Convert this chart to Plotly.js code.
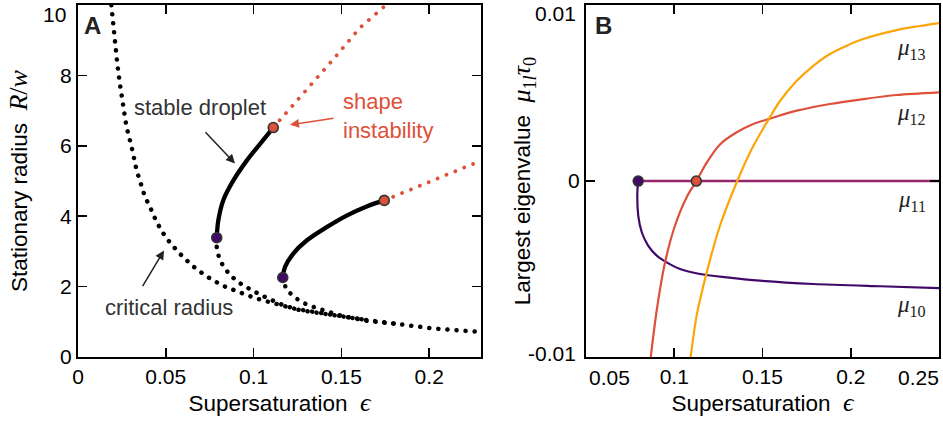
<!DOCTYPE html>
<html><head><meta charset="utf-8">
<script src="https://cdn.plot.ly/plotly-3.0.1.min.js"></script>
<style>html,body{margin:0;padding:0;background:#fff}#chart{width:943px;height:424px}
.js-line{stroke-linecap:round;}</style>
</head><body><div id="chart"></div>
<script>
// ---------- Panel A data (supersaturation eps, radius R/w) ----------
const critEps = [0.0190, 0.0211, 0.0224, 0.0239, 0.0258, 0.0277, 0.0306, 0.0334, 0.0382, 0.0406, 0.0448, 0.0501, 0.0571, 0.0647, 0.0723, 0.0818, 0.0913, 0.1018, 0.1122, 0.1226, 0.1345, 0.1454, 0.1644, 0.1834, 0.2023, 0.2295];
const critR   = [10.0, 8.84, 8.32, 7.75, 7.09, 6.52, 5.96, 5.30, 4.54, 4.31, 3.83, 3.39, 2.98, 2.61, 2.32, 2.04, 1.85, 1.66, 1.52, 1.38, 1.28, 1.19, 1.05, 0.93, 0.81, 0.71];

const unst1Eps = [0.0790, 0.0790, 0.0803, 0.0824, 0.0856, 0.0894, 0.0938, 0.0979, 0.1027, 0.1075, 0.1122, 0.1169, 0.1264, 0.1452, 0.1644];
const unst1R   = [3.39, 3.10, 2.83, 2.61, 2.39, 2.20, 2.04, 1.92, 1.80, 1.68, 1.57, 1.47, 1.33, 1.19, 1.05];

const unst2Eps = [0.1166, 0.1185, 0.1223, 0.1264, 0.1312, 0.1363, 0.1416, 0.1473, 0.1530, 0.1587, 0.1644, 0.1834];
const unst2R   = [2.26, 1.93, 1.74, 1.59, 1.47, 1.38, 1.28, 1.21, 1.14, 1.08, 1.03, 0.93];

const stab1Eps = [0.0790, 0.0799, 0.0827, 0.0884, 0.0961, 0.1036, 0.1112];
const stab1R   = [3.39, 3.88, 4.45, 5.01, 5.58, 6.05, 6.52];

const stab2Eps = [0.1166, 0.1179, 0.1226, 0.1302, 0.1416, 0.1530, 0.1644, 0.1744];
const stab2R   = [2.26, 2.56, 2.94, 3.31, 3.69, 4.02, 4.28, 4.45];

const shape1Eps = [0.1112, 0.1264, 0.1454, 0.1606, 0.1758];
const shape1R   = [6.52, 7.37, 8.46, 9.36, 10.02];

const shape2Eps = [0.1744, 0.1929, 0.2118, 0.2295];
const shape2R   = [4.45, 4.82, 5.20, 5.58];

const foldEps = [0.0790, 0.1166];
const foldR   = [3.39, 2.26];
const instEps = [0.1112, 0.1744];
const instR   = [6.52, 4.45];

// ---------- Panel B data (eps, largest eigenvalue mu_1l tau_0) ----------
const mu10Eps = [0.0796, 0.0791, 0.0796, 0.0816, 0.0853, 0.0901, 0.0957, 0.1033, 0.1146, 0.1297, 0.1486, 0.1788, 0.2166, 0.2500];
const mu10    = [0, -0.00064, -0.00197, -0.00291, -0.00368, -0.00424, -0.00462, -0.00500, -0.00528, -0.00547, -0.00566, -0.00585, -0.00598, -0.00608];

const mu11Eps = [0.0796, 0.2500];
const mu11    = [0, 0];

const mu12Eps = [0.0867, 0.0900, 0.0948, 0.1004, 0.1071, 0.1125, 0.1184, 0.1259, 0.1354, 0.1448, 0.1543, 0.1694, 0.1882, 0.2071, 0.2260, 0.2500];
const mu12    = [-0.0100, -0.00740, -0.00462, -0.00254, -0.00090, 0, 0.00105, 0.00208, 0.00277, 0.00324, 0.00355, 0.00400, 0.00438, 0.00466, 0.00489, 0.00504];

const mu13Eps = [0.1093, 0.1127, 0.1184, 0.1259, 0.1354, 0.1439, 0.1543, 0.1599, 0.1694, 0.1788, 0.1882, 0.1977, 0.2071, 0.2260, 0.2500];
const mu13    = [-0.0100, -0.00765, -0.00519, -0.00254, -0.00007, 0.00182, 0.00365, 0.00455, 0.00570, 0.00655, 0.00722, 0.00769, 0.00807, 0.00858, 0.00897];

const bDotEps = [0.0796, 0.1125];
const bDotMu  = [0, 0];

const xTicksA = [0, 0.05, 0.1, 0.15, 0.2];
const xTextA  = ['0', '0.05', '0.1', '0.15', '0.2'];
const yTicksA = [0, 2, 4, 6, 8, 10];
const yTextA  = ['0', '2', '4', '6', '8', '10'];
const xTicksB = [0.05, 0.1, 0.15, 0.2, 0.25];
const xTextB  = ['0.05', '0.1', '0.15', '0.2', '0.25'];
const yTicksB = [-0.01, 0, 0.01];
const yTextB  = ['-0.01', '0', '0.01'];

const PURPLE = '#420a68', MAG = '#932667', RED = '#dd513a', ORANGE = '#fca50a';
const SANS = 'Liberation Sans, Arial, Helvetica, sans-serif';
const SERIF = 'Liberation Serif, Times New Roman, serif';

const dotBlack = {color: '#000', width: 4.5, dash: '0.1px,9px'};
const dotRed = {color: RED, width: 3.8, dash: '0.1px,9.5px'};
const sm = {shape: 'spline', smoothing: 0.8};

const traces = [
  {x: critEps, y: critR, mode: 'lines', line: dotBlack, xaxis: 'x', yaxis: 'y'},
  {x: unst1Eps, y: unst1R, mode: 'lines', line: dotBlack, xaxis: 'x', yaxis: 'y'},
  {x: unst2Eps, y: unst2R, mode: 'lines', line: dotBlack, xaxis: 'x', yaxis: 'y'},
  {x: shape1Eps, y: shape1R, mode: 'lines', line: dotRed, xaxis: 'x', yaxis: 'y'},
  {x: shape2Eps, y: shape2R, mode: 'lines', line: dotRed, xaxis: 'x', yaxis: 'y'},
  {x: stab1Eps, y: stab1R, mode: 'lines', line: {color: '#000', width: 4.3, shape: 'spline'}, xaxis: 'x', yaxis: 'y'},
  {x: stab2Eps, y: stab2R, mode: 'lines', line: {color: '#000', width: 4.3, shape: 'spline'}, xaxis: 'x', yaxis: 'y'},
  {x: foldEps, y: foldR, mode: 'markers', marker: {color: PURPLE, size: 10, line: {color: '#333', width: 1.6}}, xaxis: 'x', yaxis: 'y', cliponaxis: false},
  {x: instEps, y: instR, mode: 'markers', marker: {color: RED, size: 10, line: {color: '#333', width: 1.6}}, xaxis: 'x', yaxis: 'y', cliponaxis: false},

  {x: mu11Eps, y: mu11, mode: 'lines', line: {color: MAG, width: 2.6}, xaxis: 'x2', yaxis: 'y2'},
  {x: mu10Eps, y: mu10, mode: 'lines', line: Object.assign({color: PURPLE, width: 2.2}, sm), xaxis: 'x2', yaxis: 'y2'},
  {x: mu12Eps, y: mu12, mode: 'lines', line: Object.assign({color: RED, width: 2.2}, sm), xaxis: 'x2', yaxis: 'y2'},
  {x: mu13Eps, y: mu13, mode: 'lines', line: Object.assign({color: ORANGE, width: 2.2}, sm), xaxis: 'x2', yaxis: 'y2'},
  {x: [bDotEps[0]], y: [bDotMu[0]], mode: 'markers', marker: {color: PURPLE, size: 10, line: {color: '#333', width: 1.6}}, xaxis: 'x2', yaxis: 'y2'},
  {x: [bDotEps[1]], y: [bDotMu[1]], mode: 'markers', marker: {color: RED, size: 10, line: {color: '#333', width: 1.6}}, xaxis: 'x2', yaxis: 'y2'}
];

const TICKSIZE = 21;
const axCommon = {
  ticks: 'inside', ticklen: 9, tickwidth: 1.5, tickcolor: '#000',
  showline: true, linewidth: 2, linecolor: '#000', mirror: 'ticks',
  showgrid: false, zeroline: false, fixedrange: true,
  tickfont: {family: SANS, size: TICKSIZE, color: '#000'}
};
const titleFont = {family: SANS, size: 22.5, color: '#000'};
const yDom = [0.158, 0.988];
const MATH = 'font-family:Liberation Serif;font-size:26px';
const tickFontA = {family: SANS, size: TICKSIZE, color: '#000'};

// the end ticks lie on the frame; their labels are drawn as annotations, nudged inward like the reference
const layout = {
  width: 943, height: 424,
  margin: {l: 0, r: 0, t: 0, b: 0},
  paper_bgcolor: '#fff', plot_bgcolor: '#fff',
  showlegend: false,
  xaxis: Object.assign({}, axCommon, {
    domain: [0.0827, 0.5101], range: [0, 0.2295], anchor: 'y',
    tickmode: 'array', tickvals: xTicksA, ticktext: xTextA,
    title: {text: 'Supersaturation  <span style="' + MATH + '"><i>ϵ</i></span>', font: titleFont, standoff: 8}
  }),
  yaxis: Object.assign({}, axCommon, {
    domain: yDom, range: [0, 10], anchor: 'x',
    tickmode: 'array', tickvals: yTicksA.slice(0, 5), ticktext: yTextA.slice(0, 5),
    title: {text: 'Stationary radius  <span style="' + MATH + '"><i>R</i>/<i>w</i></span>', font: titleFont, standoff: 26}
  }),
  xaxis2: Object.assign({}, axCommon, {
    domain: [0.6214, 0.9958], range: [0.05, 0.25], anchor: 'y2',
    tickmode: 'array', tickvals: xTicksB.slice(1, 4), ticktext: xTextB.slice(1, 4),
    title: {text: 'Supersaturation  <span style="' + MATH + '"><i>ϵ</i></span>', font: titleFont, standoff: 8}
  }),
  yaxis2: Object.assign({}, axCommon, {
    domain: yDom, range: [-0.01, 0.01], anchor: 'x2',
    tickmode: 'array', tickvals: yTicksB.slice(1, 2), ticktext: yTextB.slice(1, 2),
    title: {text: 'Largest eigenvalue  <span style="' + MATH + '"><i>μ</i><sub>1<i>l</i></sub><i>τ</i><sub>0</sub></span>', font: titleFont, standoff: 31}
  }),
  annotations: [
    // end tick labels
    {xref: 'x', yref: 'y', x: 0, y: yTicksA[5], text: yTextA[5], xanchor: 'right', yanchor: 'middle', xshift: -10, yshift: -9, showarrow: false, font: tickFontA},
    {xref: 'x2', yref: 'y2', x: 0.05, y: yTicksB[2], text: yTextB[2], xanchor: 'right', yanchor: 'middle', xshift: -8, yshift: -8, showarrow: false, font: tickFontA},
    {xref: 'x2', yref: 'y2', x: 0.05, y: yTicksB[0], text: yTextB[0], xanchor: 'right', yanchor: 'middle', xshift: -8, yshift: 4, showarrow: false, font: tickFontA},
    {xref: 'x2', yref: 'y2', x: xTicksB[0], y: -0.01, text: xTextB[0], xanchor: 'center', yanchor: 'middle', xshift: 24, yshift: -20, showarrow: false, font: tickFontA},
    {xref: 'x2', yref: 'y2', x: xTicksB[4], y: -0.01, text: xTextB[4], xanchor: 'center', yanchor: 'middle', xshift: -21, yshift: -20, showarrow: false, font: tickFontA},
    // panel letters
    {xref: 'paper', yref: 'paper', x: 0.0986, y: 0.941, xanchor: 'center', yanchor: 'middle', text: '<b>A</b>', showarrow: false, font: {family: SANS, size: 24, color: '#222'}},
    {xref: 'paper', yref: 'paper', x: 0.6405, y: 0.941, xanchor: 'center', yanchor: 'middle', text: '<b>B</b>', showarrow: false, font: {family: SANS, size: 24, color: '#222'}},
    // panel A labels and arrows
    {xref: 'x', yref: 'y', x: 0.0692, y: 7.08, text: 'stable droplet', showarrow: false, font: {family: SANS, size: 22, color: '#333'}},
    {xref: 'x', yref: 'y', axref: 'x', ayref: 'y', x: 0.0894, y: 5.50, ax: 0.0718, ay: 6.43, text: '', showarrow: true, arrowhead: 2, arrowsize: 1.2, arrowwidth: 1.5, arrowcolor: '#222'},
    {xref: 'x', yref: 'y', x: 0.1496, y: 6.86, text: 'shape<br>instability', align: 'left', xanchor: 'left', showarrow: false, font: {family: SANS, size: 22, color: RED}},
    {xref: 'x', yref: 'y', axref: 'x', ayref: 'y', x: 0.1207, y: 6.60, ax: 0.1464, ay: 6.79, text: '', showarrow: true, arrowhead: 2, arrowsize: 1.2, arrowwidth: 1.5, arrowcolor: RED},
    {xref: 'x', yref: 'y', x: 0.0518, y: 1.42, text: 'critical radius', showarrow: false, font: {family: SANS, size: 22, color: '#333'}},
    {xref: 'x', yref: 'y', axref: 'x', ayref: 'y', x: 0.0490, y: 3.03, ax: 0.0363, ay: 1.97, text: '', showarrow: true, arrowhead: 2, arrowsize: 1.2, arrowwidth: 1.5, arrowcolor: '#222'},
    // panel B curve labels
    {xref: 'x2', yref: 'y2', x: 0.2438, y: 0.0075, xanchor: 'right', text: '<i>μ</i><sub>13</sub>', showarrow: false, font: {family: SERIF, size: 23, color: '#222'}},
    {xref: 'x2', yref: 'y2', x: 0.2438, y: 0.0038, xanchor: 'right', text: '<i>μ</i><sub>12</sub>', showarrow: false, font: {family: SERIF, size: 23, color: '#222'}},
    {xref: 'x2', yref: 'y2', x: 0.2438, y: -0.00112, xanchor: 'right', text: '<i>μ</i><sub>11</sub>', showarrow: false, font: {family: SERIF, size: 23, color: '#222'}},
    {xref: 'x2', yref: 'y2', x: 0.2438, y: -0.00708, xanchor: 'right', text: '<i>μ</i><sub>10</sub>', showarrow: false, font: {family: SERIF, size: 23, color: '#222'}}
  ]
};

Plotly.newPlot('chart', traces, layout, {displayModeBar: false, staticPlot: true});
</script>
</body></html>
